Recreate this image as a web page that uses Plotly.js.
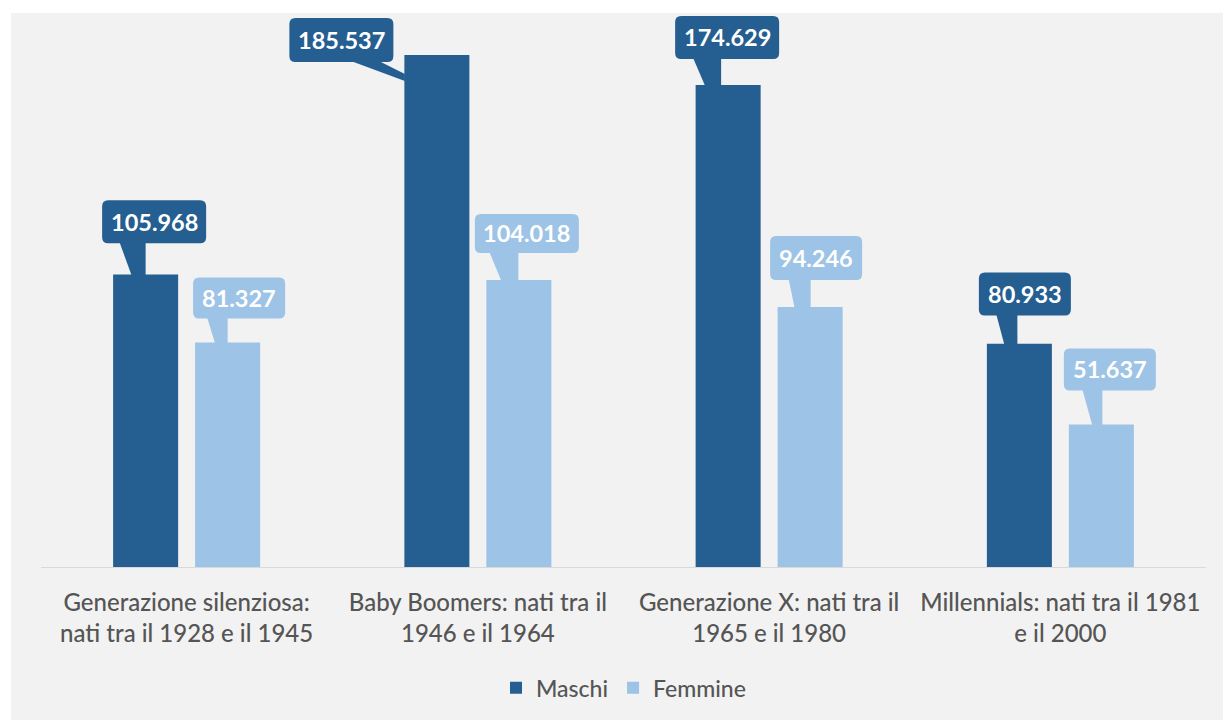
<!DOCTYPE html>
<html><head><meta charset="utf-8">
<script src="https://cdn.plot.ly/plotly-3.0.1.min.js"></script>
<style>
html,body{margin:0;padding:0;background:#ffffff;}
#chart{position:absolute;left:11px;top:13px;width:1212px;height:707px;}
</style></head><body><div id="chart"></div>
<script>
// ---- data ----
const categories = [
  "Generazione silenziosa:<br>nati tra il 1928 e il 1945",
  "Baby Boomers: nati tra il<br>1946 e il 1964",
  "Generazione X: nati tra il<br>1965 e il 1980",
  "Millennials: nati tra il 1981<br>e il 2000"
];
const seriesNames = ["Maschi", "Femmine"];
const maschi = [105968, 185537, 174629, 80933];
const femmine = [81327, 104018, 94246, 51637];

// ---- styles ----
const colors = ["#255e91", "#9dc3e6"];
const BARGAP = 0.437, BARGROUPGAP = 0.207;
const slot = (1 - BARGAP) / 2;

// callout geometry (pixels, relative to bar top centre, screen y down)
const calloutGeom = [
  [ // Maschi
    {bx: 8.5, by: -52.7, h: 43, poly: [[-26,-32],[0,-32],[0,1],[-14,1]]},
    {bx: -95.5, by: -15, h: 44, poly: [[-86,6],[-58,6],[-32,19],[-32,26]]},
    {bx: -1, by: -47.6, h: 43, poly: [[-35,-27],[-7,-27],[-7,1],[-23,1]]},
    {bx: 5.5, by: -49.6, h: 43, poly: [[-23,-29],[-2,-29],[-2,1],[-15,1]]}
  ],
  [ // Femmine
    {bx: 11.5, by: -44.5, h: 41, poly: [[-20.5,-25],[0,-25],[0,1],[-12.5,1]]},
    {bx: 8, by: -46.5, h: 39, poly: [[-29.5,-28],[-0.5,-28],[-0.5,1],[-17.5,1]]},
    {bx: 6, by: -49, h: 44, poly: [[-21.5,-28],[0.5,-28],[0.5,1],[-15.5,1]]},
    {bx: 8.5, by: -55, h: 42, poly: [[-19,-35],[1,-35],[1,1],[-9,1]]}
  ]
];

function fmt(v){ return String(v).replace(/\B(?=(\d{3})+(?!\d))/g, '.'); }

const xIdx = categories.map((c, i) => i);
const allSeries = [maschi, femmine];

const traces = allSeries.map((vals, s) => ({
  type: 'bar',
  name: seriesNames[s],
  x: xIdx,
  y: vals,
  marker: {color: colors[s], line: {width: 0}},
  hoverinfo: 'skip'
}));

const shapes = [];
const annotations = [];
allSeries.forEach((vals, s) => {
  vals.forEach((v, i) => {
    const xc = i + (s === 0 ? -1 : 1) * slot / 2;
    const g = calloutGeom[s][i];
    const txt = fmt(v);
    const w = 20 + 12 * txt.length;
    const r = 6;
    const x0 = g.bx - w / 2, x1 = g.bx + w / 2;
    const yt = -(g.by - g.h / 2), yb = -(g.by + g.h / 2);
    const boxPath = `M${x0+r},${yt} L${x1-r},${yt} Q${x1},${yt} ${x1},${yt-r} L${x1},${yb+r} Q${x1},${yb} ${x1-r},${yb} L${x0+r},${yb} Q${x0},${yb} ${x0},${yb+r} L${x0},${yt-r} Q${x0},${yt} ${x0+r},${yt} Z`;
    const ptrPath = 'M' + g.poly.map(p => `${p[0]},${-p[1]}`).join(' L') + ' Z';
    [boxPath, ptrPath].forEach(p => shapes.push({
      type: 'path', xref: 'x', yref: 'y', xsizemode: 'pixel', ysizemode: 'pixel',
      xanchor: xc, yanchor: v, path: p, fillcolor: colors[s], line: {width: 0}, layer: 'above'
    }));
    annotations.push({
      xref: 'x', yref: 'y', x: xc, y: v, xshift: g.bx, yshift: -g.by,
      text: txt, showarrow: false, xanchor: 'center', yanchor: 'middle',
      font: {family: 'Lato', size: 23.5, color: '#ffffff', weight: 700}
    });
  });
});

const layout = {
  width: 1212, height: 707,
  paper_bgcolor: '#f2f2f2', plot_bgcolor: '#f2f2f2',
  margin: {l: 30, r: 17, t: 0, b: 153},
  barmode: 'group', bargap: BARGAP, bargroupgap: BARGROUPGAP,
  xaxis: {
    range: [-0.5, 3.5], tickvals: xIdx, ticktext: categories,
    showgrid: false, zeroline: false, showline: true, linecolor: '#d9d9d9', linewidth: 1,
    ticks: '', ticklabelstandoff: 14,
    tickfont: {family: 'Lato', size: 24, color: '#555555', weight: 500}
  },
  yaxis: {range: [0, 200725], visible: false, showgrid: false, zeroline: false},
  showlegend: true,
  legend: {orientation: 'h', x: 0.5, xanchor: 'center', y: -0.218, yanchor: 'middle',
           font: {family: 'Lato', size: 23, color: '#555555', weight: 500}, bgcolor: 'rgba(0,0,0,0)'},
  shapes: shapes,
  annotations: annotations
};

Plotly.newPlot('chart', traces, layout, {staticPlot: true, displayModeBar: false});
</script></body></html>
